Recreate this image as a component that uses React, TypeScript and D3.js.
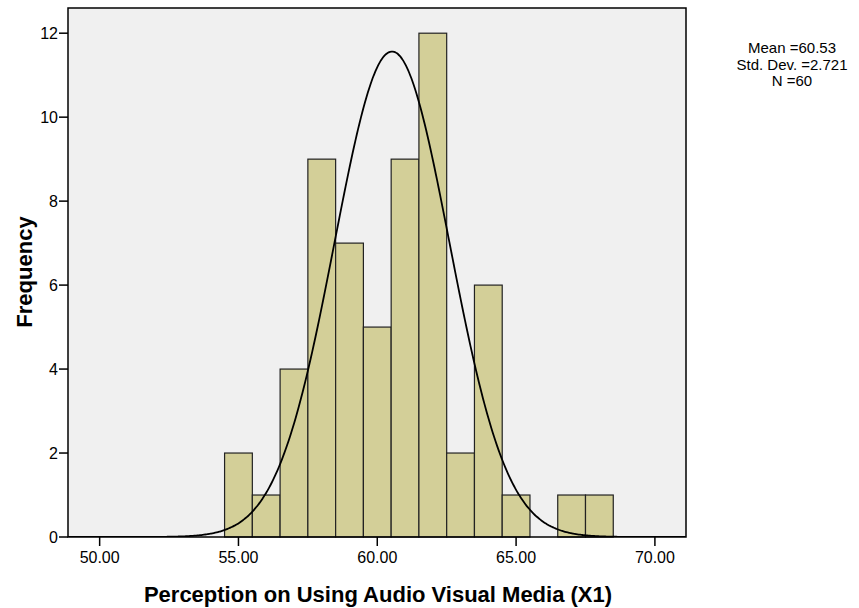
import React from "react";
import * as d3 from "d3";

// histogram bins (lower edge) and counts
const binStarts = [54.5, 55.5, 56.5, 57.5, 58.5, 59.5, 60.5, 61.5, 62.5, 63.5, 64.5, 65.5, 66.5, 67.5];
const counts = [2, 1, 4, 9, 7, 5, 9, 12, 2, 6, 1, 0, 1, 1];
const xTicks = [50, 55, 60, 65, 70];
const yTicks = [0, 2, 4, 6, 8, 10, 12];
const stats = ["Mean =60.53", "Std. Dev. =2.721", "N =60"];
const curveMean = 60.53;
const curveSd = 2.07;
const sampleN = 60;
const binWidth = 1;

const W = 859, H = 608;
const left = 68, right = 686, top = 8, bottom = 537;

export default function App() {
  const x = d3.scaleLinear().domain([48.86, 71.12]).range([left, right]);
  const y = d3.scaleLinear().domain([0, 12.6]).range([bottom, top]);

  const curvePts = d3.range(48.86, 71.12, 0.05).map(v => {
    const z = (v - curveMean) / curveSd;
    return [v, (sampleN * binWidth) / (curveSd * Math.sqrt(2 * Math.PI)) * Math.exp(-0.5 * z * z)] as [number, number];
  });
  const line = d3.line<[number, number]>()
    .x(d => x(d[0]))
    .y(d => y(d[1]))
    .curve(d3.curveMonotoneX);

  const font = "'Liberation Sans', Arial, sans-serif";

  return (
    <svg width={W} height={H} style={{ position: "absolute", left: 0, top: 0, background: "#fff" }} fontFamily={font}>
      <rect x={left} y={top} width={right - left} height={bottom - top} fill="#f0f0f0" />
      <defs>
        <clipPath id="plot">
          <rect x={left} y={top} width={right - left} height={bottom - top} />
        </clipPath>
      </defs>
      {binStarts.map((b, i) => counts[i] > 0 && (
        <rect key={i} x={x(b)} y={y(counts[i])} width={x(b + binWidth) - x(b)} height={y(0) - y(counts[i])}
          fill="#d3cf98" stroke="#222" strokeWidth={1.2} />
      ))}
      <path d={line(curvePts) || ""} fill="none" stroke="#000" strokeWidth={1.8} clipPath="url(#plot)" />
      <rect x={left} y={top} width={right - left} height={bottom - top} fill="none" stroke="#000" strokeWidth={1.5} />
      {xTicks.map(t => (
        <g key={t}>
          <line x1={x(t)} x2={x(t)} y1={bottom} y2={bottom + 9} stroke="#000" strokeWidth={1.5} />
          <text x={x(t)} y={563} textAnchor="middle" fontSize={16} fill="#000">{t.toFixed(2)}</text>
        </g>
      ))}
      {yTicks.map(t => (
        <g key={t}>
          <line x1={left - 9} x2={left} y1={y(t)} y2={y(t)} stroke="#000" strokeWidth={1.5} />
          <text x={left - 10} y={y(t) + 5.5} textAnchor="end" fontSize={16} fill="#000">{t}</text>
        </g>
      ))}
      <text x={378} y={602} textAnchor="middle" fontSize={22} fontWeight="bold">Perception on Using Audio Visual Media (X1)</text>
      <text transform={`translate(32,272) rotate(-90)`} textAnchor="middle" fontSize={22} fontWeight="bold">Frequency</text>
      {stats.map((s, i) => (
        <text key={s} x={792} y={53 + i * 16.5} textAnchor="middle" fontSize={15}>{s}</text>
      ))}
    </svg>
  );
}
